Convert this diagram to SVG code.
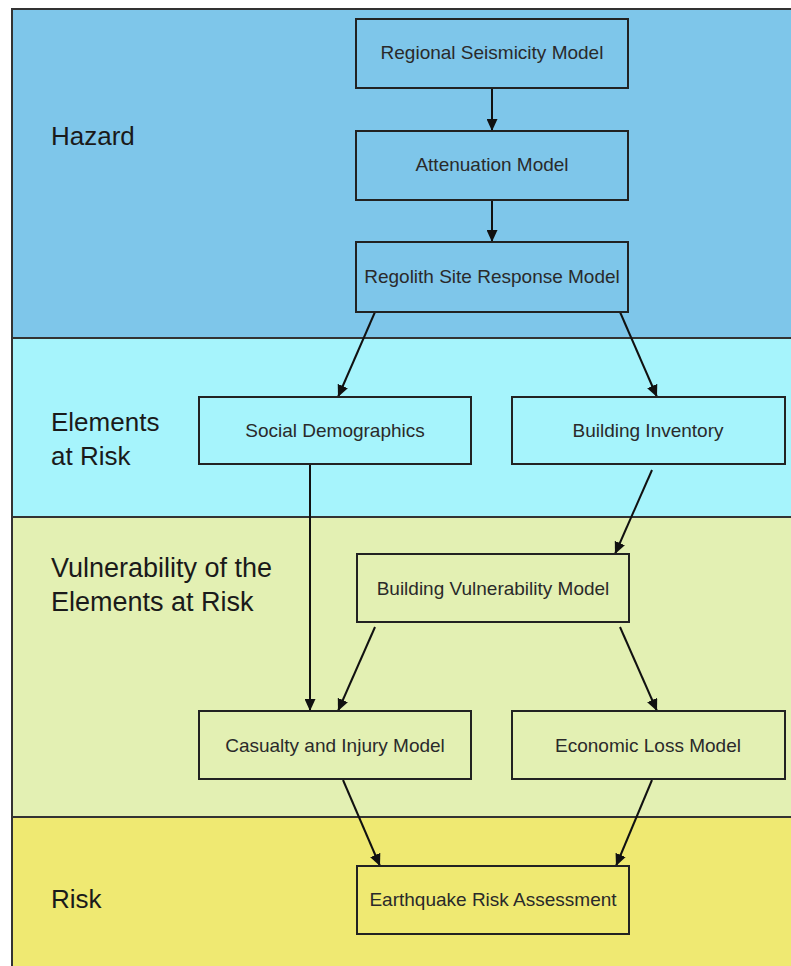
<svg xmlns="http://www.w3.org/2000/svg" width="791" height="966" viewBox="0 0 791 966">
<defs>
<marker id="ah" markerUnits="userSpaceOnUse" markerWidth="12" markerHeight="11" refX="12" refY="5.5" orient="auto">
<path d="M0,0 L12,5.5 L0,11 z" fill="#111"/>
</marker>
<style>
.band{stroke:#333;stroke-width:2}
.box{fill:none;stroke:#222;stroke-width:2}
.bt{font-family:"Liberation Sans",Arial,sans-serif;font-size:19px;fill:#2a2a2a;text-anchor:middle}
.lb{font-family:"Liberation Sans",Arial,sans-serif;font-size:26px;fill:#1a1a1a}
.cn{stroke:#111;stroke-width:2;fill:none;marker-end:url(#ah)}
</style>
</defs>
<rect x="0" y="0" width="791" height="966" fill="#ffffff"/>
<g id="bands">
<rect class="band" x="12" y="9" width="790" height="329" fill="#7ec6ea"/>
<rect class="band" x="12" y="338" width="790" height="179" fill="#a6f4fc"/>
<rect class="band" x="12" y="517" width="790" height="300" fill="#e3f0b3"/>
<rect class="band" x="12" y="817" width="790" height="160" fill="#efe972"/>
</g>
<g id="labels">
<text class="lb" x="51" y="145">Hazard</text>
<text class="lb" x="51" y="431">Elements</text>
<text class="lb" x="51" y="465">at Risk</text>
<text class="lb" x="51" y="577" style="font-size:27px">Vulnerability of the</text>
<text class="lb" x="51" y="611" style="font-size:27px">Elements at Risk</text>
<text class="lb" x="51" y="908">Risk</text>
</g>
<g id="connectors">
<line class="cn" x1="492" y1="88" x2="492" y2="131"/>
<line class="cn" x1="492" y1="200" x2="492" y2="242"/>
<line class="cn" x1="375" y1="312" x2="338" y2="397"/>
<line class="cn" x1="620" y1="312" x2="657" y2="397"/>
<line class="cn" x1="310" y1="464" x2="310" y2="711"/>
<line class="cn" x1="652" y1="470" x2="615" y2="554"/>
<line class="cn" x1="375" y1="627" x2="338" y2="711"/>
<line class="cn" x1="620" y1="627" x2="657" y2="711"/>
<line class="cn" x1="343" y1="780" x2="380" y2="866"/>
<line class="cn" x1="652" y1="780" x2="616" y2="866"/>
</g>
<g id="regional"><rect class="box" x="356" y="19" width="272" height="69"/><text class="bt" x="492" y="59">Regional Seismicity Model</text></g>
<g id="attenuation"><rect class="box" x="356" y="131" width="272" height="69"/><text class="bt" x="492" y="171">Attenuation Model</text></g>
<g id="regolith"><rect class="box" x="356" y="242" width="272" height="70"/><text class="bt" x="492" y="283">Regolith Site Response Model</text></g>
<g id="social"><rect class="box" x="199" y="397" width="272" height="67"/><text class="bt" x="335" y="437">Social Demographics</text></g>
<g id="inventory"><rect class="box" x="512" y="397" width="273" height="67"/><text class="bt" x="648" y="437">Building Inventory</text></g>
<g id="vulnerability"><rect class="box" x="357" y="554" width="272" height="68"/><text class="bt" x="493" y="595">Building Vulnerability Model</text></g>
<g id="casualty"><rect class="box" x="199" y="711" width="272" height="68"/><text class="bt" x="335" y="752">Casualty and Injury Model</text></g>
<g id="economic"><rect class="box" x="512" y="711" width="273" height="68"/><text class="bt" x="648" y="752">Economic Loss Model</text></g>
<g id="earthquake"><rect class="box" x="357" y="866" width="272" height="68"/><text class="bt" x="493" y="906">Earthquake Risk Assessment</text></g>
</svg>
